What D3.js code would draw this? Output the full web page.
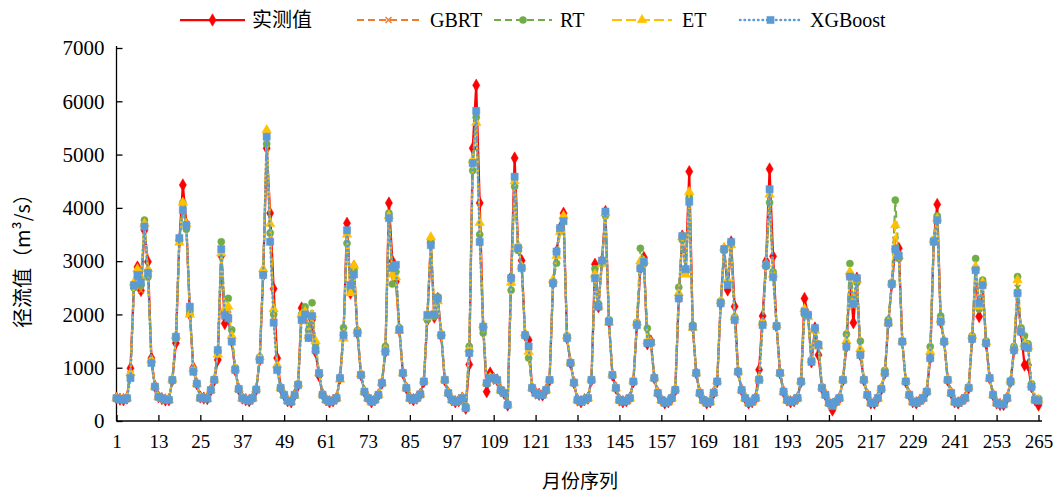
<!DOCTYPE html>
<html>
<head>
<meta charset="utf-8">
<script src="https://cdn.jsdelivr.net/npm/d3@7"></script>
<style>
  body { margin: 0; background: #fff; }
  svg text { font-family: "Liberation Serif", "Times New Roman", serif; fill: #000; }
  .cjk { font-family: "Noto Sans CJK SC", sans-serif; }
</style>
</head>
<body>
<script>
const width = 1059
const height = 494

// x ticks (month index)
const xTicks = [1, 13, 25, 37, 49, 61, 73, 85, 97, 109, 121, 133, 145, 157, 169, 181, 193, 205, 217, 229, 241, 253, 265]
const yTicks = [0, 1000, 2000, 3000, 4000, 5000, 6000, 7000]

// measured runoff
const observed = [
  430, 410, 400, 430, 990, 2550, 2890, 2450, 3580, 2990, 1180, 650,
  456, 420, 394, 400, 769, 1463, 3380, 4430, 3700, 2000, 1000, 700,
  450, 430, 420, 580, 770, 1150, 3100, 1830, 1950, 1500, 957, 600,
  430, 400, 380, 430, 590, 1150, 2740, 5120, 3900, 2480, 1180, 620,
  490, 380, 360, 490, 675, 2120, 2050, 1600, 1900, 1300, 850, 500,
  400, 360, 380, 430, 806, 1610, 3710, 2400, 2900, 1650, 870, 550,
  430, 362, 400, 490, 713, 1300, 4090, 3000, 2620, 1710, 900, 620,
  430, 400, 430, 500, 740, 1900, 3350, 1950, 2300, 1600, 770, 525,
  400, 360, 380, 430, 240, 1060, 5120, 6300, 4090, 1770, 550, 900,
  800, 770, 580, 520, 300, 2700, 4935, 3250, 3010, 1610, 1520, 620,
  525, 500, 490, 580, 770, 2585, 3180, 3620, 3900, 1557, 1090, 720,
  394, 362, 400, 430, 770, 2940, 2145, 3010, 3930, 1865, 863, 620,
  394, 362, 380, 430, 740, 1800, 2865, 3070, 1450, 1500, 806, 525,
  394, 340, 360, 430, 580, 2300, 3470, 2850, 4680, 1770, 900, 525,
  394, 340, 360, 530, 740, 2210, 3225, 2460, 3360, 2150, 925, 580,
  430, 340, 360, 430, 960, 1970, 3000, 4730, 3090, 1780, 900, 550,
  394, 360, 380, 430, 740, 2300, 1990, 1110, 1745, 1240, 620, 490,
  340, 206, 360, 430, 770, 1395, 2710, 1845, 2680, 1240, 770, 490,
  340, 340, 430, 600, 900, 1840, 2570, 3225, 3240, 1490, 740, 490,
  360, 340, 380, 430, 550, 1180, 3365, 4065, 1865, 1490, 770, 525,
  360, 340, 380, 430, 620, 1540, 2830, 1960, 2550, 1460, 806, 490,
  340, 310, 310, 430, 740, 1330, 2400, 1675, 1050, 1050, 644, 400, 300
]

const gbrt = [
  430, 410, 400, 430, 880, 2550, 2700, 2450, 3650, 2800, 1120, 650,
  450, 420, 400, 400, 770, 1550, 3400, 4000, 3650, 2100, 950, 700,
  440, 420, 420, 580, 780, 1300, 3150, 1950, 2000, 1550, 960, 600,
  430, 400, 380, 430, 590, 1150, 2780, 5250, 3450, 1950, 980, 620,
  490, 380, 360, 480, 690, 1950, 2050, 1580, 1950, 1380, 900, 500,
  400, 360, 380, 430, 800, 1600, 3550, 2500, 2800, 1680, 870, 550,
  430, 360, 400, 490, 715, 1320, 3850, 2800, 2850, 1720, 900, 620,
  430, 400, 430, 500, 745, 1950, 3350, 2000, 2280, 1620, 775, 525,
  400, 360, 380, 430, 250, 1300, 4850, 5750, 3450, 1750, 700, 810,
  800, 765, 580, 520, 305, 2600, 4550, 3250, 2880, 1620, 1350, 620,
  525, 490, 490, 580, 775, 2600, 3150, 3600, 3780, 1570, 1090, 720,
  394, 362, 400, 430, 775, 2750, 2150, 3000, 3900, 1870, 865, 620,
  394, 362, 380, 430, 745, 1820, 2950, 3000, 1480, 1475, 806, 525,
  394, 340, 360, 430, 590, 2350, 3450, 2800, 4200, 1770, 900, 525,
  394, 340, 360, 530, 745, 2220, 3230, 2550, 3330, 1920, 928, 580,
  430, 340, 360, 430, 780, 1820, 2930, 4300, 2750, 1780, 900, 550,
  394, 360, 380, 430, 745, 2080, 1980, 1120, 1730, 1420, 625, 490,
  340, 285, 360, 430, 775, 1450, 2750, 2150, 2650, 1300, 775, 490,
  340, 340, 430, 610, 910, 1850, 2580, 3400, 3120, 1490, 745, 490,
  360, 340, 380, 430, 555, 1250, 3380, 3800, 1880, 1490, 775, 525,
  360, 340, 380, 430, 630, 1560, 2850, 2180, 2580, 1470, 806, 490,
  340, 310, 315, 430, 745, 1350, 2500, 1680, 1400, 1380, 660, 400, 390
]

const rt = [
  430, 410, 400, 430, 850, 2500, 2800, 2550, 3771, 2700, 1100, 650,
  450, 420, 400, 400, 780, 1550, 3400, 4100, 3600, 2050, 950, 700,
  440, 420, 420, 580, 780, 1300, 3365, 2050, 2300, 1710, 1000, 600,
  430, 400, 380, 430, 600, 1200, 2800, 5200, 3530, 2000, 1000, 620,
  490, 380, 360, 480, 700, 2000, 2145, 1700, 2220, 1450, 900, 500,
  400, 360, 380, 430, 800, 1750, 3335, 2450, 2850, 1700, 880, 550,
  430, 360, 400, 490, 720, 1400, 3900, 2570, 2800, 1750, 900, 620,
  430, 400, 430, 500, 750, 1900, 3400, 1960, 2330, 1600, 770, 525,
  400, 360, 380, 430, 280, 1400, 4700, 5700, 3500, 1650, 700, 820,
  800, 760, 580, 520, 320, 2455, 4400, 3200, 2900, 1600, 1180, 620,
  525, 490, 490, 580, 780, 2600, 2960, 3550, 3800, 1600, 1100, 720,
  394, 362, 400, 430, 780, 2860, 2200, 2950, 3850, 1900, 870, 620,
  394, 362, 380, 430, 750, 1850, 3240, 2950, 1740, 1480, 810, 525,
  394, 340, 360, 430, 600, 2510, 3400, 2800, 4200, 1800, 900, 525,
  394, 340, 360, 530, 750, 2250, 3200, 2600, 3350, 1950, 930, 580,
  430, 340, 360, 430, 800, 1850, 2900, 4100, 2800, 1800, 900, 550,
  394, 360, 380, 430, 750, 2000, 2000, 1150, 1700, 1450, 640, 490,
  340, 300, 360, 430, 780, 1630, 2955, 2300, 2600, 1500, 780, 490,
  340, 340, 430, 620, 950, 1900, 2600, 4145, 3050, 1500, 750, 490,
  360, 340, 380, 430, 560, 1395, 3400, 3850, 1970, 1500, 780, 525,
  360, 340, 380, 430, 640, 1600, 3050, 2100, 2645, 1500, 800, 490,
  340, 310, 320, 430, 760, 1400, 2710, 1750, 1600, 1450, 700, 420, 420
]

const et = [
  430, 410, 400, 430, 900, 2600, 2850, 2700, 3700, 2850, 1150, 650,
  450, 420, 400, 400, 780, 1600, 3350, 4100, 3700, 2000, 980, 700,
  440, 420, 420, 580, 780, 1250, 3150, 2100, 2150, 1600, 980, 600,
  430, 400, 380, 430, 600, 1200, 2850, 5460, 3700, 2100, 1050, 620,
  490, 380, 360, 480, 700, 2000, 2050, 1600, 2000, 1500, 900, 500,
  400, 360, 380, 430, 780, 1550, 3500, 2400, 2920, 1700, 880, 550,
  430, 360, 400, 490, 720, 1350, 3850, 2750, 2700, 1700, 900, 620,
  430, 400, 430, 500, 760, 1950, 3450, 2050, 2250, 1650, 780, 525,
  400, 360, 380, 430, 260, 1350, 4900, 5600, 3720, 1800, 720, 820,
  800, 760, 580, 520, 310, 2600, 4500, 3300, 2900, 1650, 1300, 620,
  525, 490, 490, 580, 780, 2650, 3100, 3550, 3850, 1600, 1100, 720,
  394, 362, 400, 430, 780, 2750, 2150, 2950, 3900, 1850, 870, 620,
  394, 362, 380, 430, 750, 1850, 3000, 3000, 1500, 1480, 810, 525,
  394, 340, 360, 430, 600, 2400, 3450, 2750, 4300, 1750, 900, 525,
  394, 340, 360, 530, 750, 2250, 3250, 2650, 3300, 1950, 930, 580,
  430, 340, 360, 430, 800, 1850, 2950, 4250, 2750, 1800, 900, 550,
  394, 360, 380, 430, 750, 2100, 1950, 1150, 1700, 1400, 640, 490,
  340, 290, 360, 430, 780, 1500, 2800, 2250, 2650, 1350, 780, 490,
  340, 340, 430, 620, 920, 1850, 2600, 3680, 3100, 1500, 750, 490,
  360, 340, 380, 430, 560, 1300, 3400, 3800, 1900, 1500, 780, 525,
  360, 340, 380, 430, 640, 1600, 2900, 2150, 2600, 1480, 800, 490,
  340, 310, 320, 430, 760, 1380, 2645, 1700, 1450, 1400, 680, 410, 400
]

const xgb = [
  426, 410, 394, 426, 806, 2550, 2740, 2600, 3650, 2776, 1088, 644,
  456, 426, 394, 394, 769, 1582, 3433, 3959, 3677, 2145, 925, 700,
  430, 430, 420, 580, 770, 1330, 3225, 1990, 1930, 1490, 957, 600,
  430, 400, 380, 430, 587, 1144, 2740, 5335, 3364, 1845, 957, 620,
  490, 380, 362, 490, 675, 1895, 2000, 1557, 1970, 1330, 900, 490,
  400, 362, 380, 430, 806, 1610, 3580, 2550, 2750, 1650, 863, 550,
  430, 362, 400, 490, 713, 1300, 3810, 2870, 2930, 1710, 900, 620,
  430, 400, 430, 500, 740, 1990, 3300, 2000, 2300, 1610, 770, 525,
  400, 360, 380, 430, 240, 1275, 4840, 5820, 3360, 1770, 713, 800,
  806, 770, 580, 525, 300, 2680, 4585, 3245, 2870, 1610, 1400, 620,
  525, 490, 490, 580, 770, 2585, 3180, 3620, 3750, 1557, 1090, 720,
  394, 362, 400, 430, 770, 2680, 2145, 3010, 3930, 1865, 863, 620,
  394, 362, 380, 430, 740, 1800, 2865, 2990, 1460, 1470, 806, 525,
  394, 340, 360, 430, 580, 2300, 3470, 2850, 4115, 1770, 900, 525,
  394, 340, 360, 530, 740, 2210, 3225, 2550, 3360, 1895, 925, 580,
  430, 340, 360, 430, 770, 1800, 2930, 4350, 2700, 1780, 900, 550,
  394, 360, 380, 430, 740, 2050, 1990, 1110, 1745, 1425, 620, 490,
  340, 280, 360, 430, 770, 1395, 2710, 2200, 2680, 1240, 770, 490,
  340, 340, 430, 600, 900, 1840, 2570, 3225, 3100, 1490, 740, 490,
  360, 340, 380, 430, 550, 1180, 3365, 3770, 1865, 1490, 770, 525,
  360, 340, 380, 430, 620, 1540, 2830, 2210, 2550, 1460, 806, 490,
  340, 310, 310, 430, 740, 1330, 2400, 1675, 1400, 1370, 644, 394, 380
]

const series = [
  { name: '实测值', values: observed, color: '#FF0000', dash: null, width: 2.25, marker: 'diamond' },
  { name: 'GBRT', values: gbrt, color: '#ED7D31', dash: '7,4', width: 2, marker: 'x' },
  { name: 'RT', values: rt, color: '#70AD47', dash: '7,4', width: 2, marker: 'circle' },
  { name: 'ET', values: et, color: '#FFC000', dash: '10,4', width: 2, marker: 'triangle' },
  { name: 'XGBoost', values: xgb, color: '#5B9BD5', dash: '0.5,4', width: 2.5, marker: 'square' }
]

const xScale = d3.scaleLinear()
  .domain([1, 265])
  .range([116.5, 1038.5])

const yScale = d3.scaleLinear()
  .domain([0, 7000])
  .range([421, 48])

const svg = d3.select('body')
  .append('svg')
  .attr('width', width)
  .attr('height', height)

const markerPath = (type) => {
  if (type === 'x') return 'M-3,-3L3,3M3,-3L-3,3'
  const shapes = {
    diamond: [d3.symbolDiamond, 45],
    circle: [d3.symbolCircle, 40],
    triangle: [d3.symbolTriangle, 40],
    square: [d3.symbolSquare, 52]
  }
  return d3.symbol().type(shapes[type][0]).size(shapes[type][1])()
}

const drawMarker = (sel, s) => {
  sel.attr('d', markerPath(s.marker))
  if (s.marker === 'x') {
    sel.attr('fill', 'none').attr('stroke', s.color).attr('stroke-width', 1.5)
  } else {
    sel.attr('fill', s.color).attr('stroke', s.color).attr('stroke-width', 0.5)
  }
}

// axes
const yAxis = d3.axisLeft(yScale)
  .tickValues(yTicks)
  .tickFormat(d3.format('d'))
  .tickSize(-6)
  .tickPadding(12)

const xAxis = d3.axisBottom(xScale)
  .tickValues(xTicks)
  .tickSize(-6)
  .tickPadding(14)

const gy = svg.append('g')
  .attr('transform', `translate(${xScale(1)},0)`)
  .call(yAxis)
gy.select('.domain').attr('d', `M0,${yScale(0)}V${yScale(7000) - 2}`).attr('stroke', '#000').attr('stroke-width', 1.3)
gy.selectAll('.tick line').attr('stroke', '#000').attr('stroke-width', 1.3)
gy.selectAll('.tick text').style('font-size', '21px').attr('font-family', '"Liberation Serif", serif')

const gx = svg.append('g')
  .attr('transform', `translate(0,${yScale(0)})`)
  .call(xAxis)
gx.select('.domain').attr('d', `M${xScale(1)},0H1042`).attr('stroke', '#000').attr('stroke-width', 1.3)
gx.selectAll('.tick line').attr('stroke', '#000').attr('stroke-width', 1.3)
gx.selectAll('.tick text').style('font-size', '19px').attr('font-family', '"Liberation Serif", serif')

// series
const line = d3.line()
  .x((d, i) => xScale(i + 1))
  .y(d => yScale(d))

series.forEach(s => {
  const g = svg.append('g')
  g.append('path')
    .attr('d', line(s.values))
    .attr('fill', 'none')
    .attr('stroke', s.color)
    .attr('stroke-width', s.width)
    .attr('stroke-dasharray', s.dash)
    .attr('stroke-linecap', s.marker === 'square' ? 'round' : 'butt')
    .attr('stroke-linejoin', 'round')

  g.selectAll('path.m')
    .data(s.values)
    .enter()
    .append('path')
    .attr('class', 'm')
    .attr('transform', (d, i) => `translate(${xScale(i + 1)},${yScale(d)})`)
    .call(sel => drawMarker(sel, s))
})

// legend
const legendLine = [[180, 245], [357, 420], [494, 552], [612, 672], [740, 801]]
const legendText = [252, 430, 560, 682, 810]
const legend = svg.selectAll('.legend')
  .data(series)
  .enter()
  .append('g')
  .attr('class', 'legend')
  .attr('transform', 'translate(0,20)')

legend.append('line')
  .attr('x1', (d, i) => legendLine[i][0])
  .attr('x2', (d, i) => legendLine[i][1])
  .attr('stroke', d => d.color)
  .attr('stroke-width', d => d.width)
  .attr('stroke-dasharray', d => d.dash)
  .attr('stroke-linecap', d => d.marker === 'square' ? 'round' : 'butt')

legend.append('path')
  .attr('transform', (d, i) => `translate(${(legendLine[i][0] + legendLine[i][1]) / 2},0)`)
  .each(function (d) { drawMarker(d3.select(this), d) })

legend.append('text')
  .attr('x', (d, i) => legendText[i])
  .attr('y', 7)
  .attr('class', (d, i) => i === 0 ? 'cjk' : null)
  .style('font-size', (d, i) => i === 0 ? '20px' : '20px')
  .text(d => d.name)

// axis titles
svg.append('text')
  .attr('class', 'cjk')
  .attr('x', 580)
  .attr('y', 488)
  .attr('text-anchor', 'middle')
  .style('font-size', '19px')
  .text('月份序列')

svg.append('text')
  .attr('class', 'cjk')
  .attr('transform', 'translate(30,256) rotate(-90)')
  .attr('text-anchor', 'middle')
  .style('font-size', '20px')
  .text('径流值（m³/s）')
</script>
</body>
</html>
